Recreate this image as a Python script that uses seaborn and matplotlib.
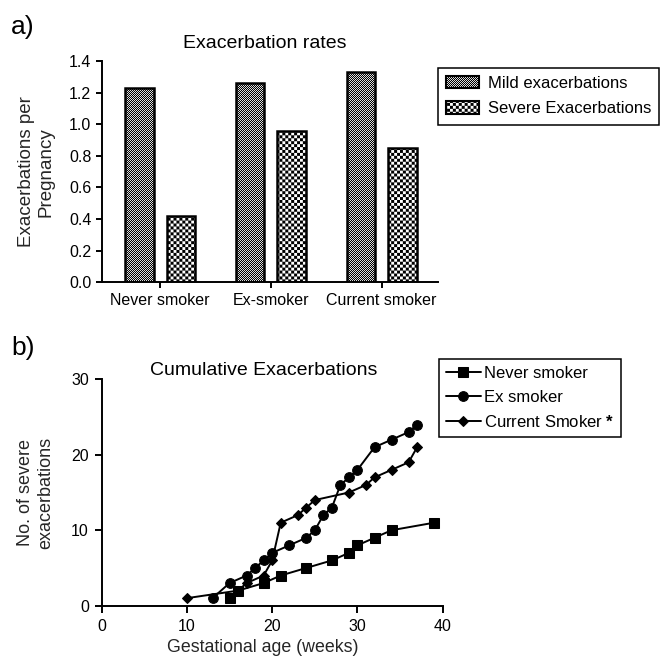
import warnings
import numpy as np
import pandas as pd
import matplotlib
matplotlib.use('Agg')
import matplotlib.pyplot as plt
import matplotlib.hatch as mhatch
from matplotlib.path import Path
from matplotlib.patches import Patch
import seaborn as sns

warnings.filterwarnings('ignore')

# ---- data: a) exacerbation rates ----
groups = ['Never smoker', 'Ex-smoker', 'Current smoker']
mild_rate = [1.23, 1.26, 1.33]
severe_rate = [0.42, 0.96, 0.85]

# ---- data: b) cumulative severe exacerbations ----
never_weeks = [15, 16, 19, 21, 24, 27, 29, 30, 32, 34, 39]
never_count = [1, 2, 3, 4, 5, 6, 7, 8, 9, 10, 11]
ex_weeks = [13, 15, 17, 18, 19, 20, 22, 24, 25, 26, 27, 28, 29, 30, 32, 34, 36, 37]
ex_count = [1, 3, 4, 5, 6, 7, 8, 9, 10, 12, 13, 16, 17, 18, 21, 22, 23, 24]
current_weeks = [10, 16, 17, 19, 20, 21, 23, 24, 25, 29, 31, 32, 34, 36, 37]
current_count = [1, 2, 3, 4, 6, 11, 12, 13, 14, 15, 16, 17, 18, 19, 21]


# checkerboard hatch, 'k' = fine, 'c' = coarse (cells per inch)
class CheckerHatch(mhatch.HatchPatternBase):
    def __init__(self, hatch, density):
        self.n = 100 * hatch.count('k') + 34 * hatch.count('c')
        self.num_vertices = 5 * ((self.n * self.n + 1) // 2) if self.n else 0

    def set_vertices_and_codes(self, vertices, codes):
        n = self.n
        i, j = np.meshgrid(np.arange(n), np.arange(n))
        mask = (i + j) % 2 == 0
        d = 1.0 / n
        corners = np.stack([i[mask] * d, j[mask] * d], axis=1)
        sq = np.array([[0, 0], [d, 0], [d, d], [0, d], [0, 0]])
        vertices[:] = (corners[:, None, :] + sq[None, :, :]).reshape(-1, 2)
        codes[:] = np.tile([Path.MOVETO, Path.LINETO, Path.LINETO,
                            Path.LINETO, Path.CLOSEPOLY], len(corners))


mhatch._hatch_types.append(CheckerHatch)

sns.set_style('ticks')
plt.rcParams['font.family'] = ['Liberation Sans', 'DejaVu Sans']
plt.rcParams.update({
    'hatch.linewidth': 0.05,
    'mathtext.fontset': 'custom',
    'mathtext.bf': 'Liberation Sans:bold',
    'axes.linewidth': 1.4,
    'axes.edgecolor': 'black',
    'text.color': 'black',
    'xtick.color': 'black',
    'ytick.color': 'black',
})

W, H = 664, 660
fig = plt.figure(figsize=(W / 100, H / 100), dpi=100)

# ---- a) bar chart ----
bars_df = pd.DataFrame({
    'group': groups * 2,
    'rate': mild_rate + severe_rate,
    'kind': ['Mild exacerbations'] * 3 + ['Severe Exacerbations'] * 3,
})

ax1 = fig.add_axes([101.7 / W, 1 - 282.3 / H, (438.3 - 101.7) / W, (282.3 - 61) / H])
sns.barplot(data=bars_df, x='group', y='rate', hue='kind',
            palette=['white', 'white'], edgecolor='black', linewidth=1.8,
            width=0.75, gap=0.31, errorbar=None, legend=False, ax=ax1)
for cont, h in zip(ax1.containers, ['k', 'c']):
    for bar in cont:
        bar.set_hatch(h)

ax1.set_xlim(-0.527, 2.511)
ax1.set_ylim(0, 1.4)
ax1.set_yticks(np.arange(0, 1.41, 0.2))
ax1.set_xlabel('')
ax1.set_ylabel('Exacerbations per\nPregnancy', fontsize=13.5, linespacing=1.2)
ax1.yaxis.set_label_coords(-0.14, 0.5)
ax1.tick_params(length=4.5, width=1.4, labelsize=11.5, pad=3)
sns.despine(ax=ax1)

handles = [
    Patch(facecolor='white', edgecolor='black', hatch='k', linewidth=1.5,
          label='Mild exacerbations'),
    Patch(facecolor='white', edgecolor='black', hatch='c', linewidth=1.5,
          label='Severe Exacerbations'),
]
leg1 = fig.legend(handles=handles, loc='upper left',
                  bbox_to_anchor=(437.7 / W, 1 - 67.7 / H), borderaxespad=0,
                  fontsize=12, frameon=True, fancybox=False, framealpha=1,
                  edgecolor='black', handlelength=2.0, handleheight=0.75,
                  handletextpad=0.5, labelspacing=0.62, borderpad=0.5)
leg1.get_frame().set_linewidth(1.1)

# ---- b) cumulative line chart ----
ax2 = fig.add_axes([101.7 / W, 1 - 605.7 / H, (442.7 - 101.7) / W, (605.7 - 379.3) / H])
series = [
    (never_weeks, never_count, 's', 6.5, 'Never smoker'),
    (ex_weeks, ex_count, 'o', 7, 'Ex smoker'),
    (current_weeks, current_count, 'D', 5, 'Current Smoker $\\mathbf{*}$'),
]
for x, y, m, ms, lab in series:
    sns.lineplot(x=x, y=y, marker=m, markersize=ms, color='black',
                 markeredgecolor='black', markeredgewidth=0.75,
                 linewidth=1.4, label=lab, ax=ax2)

if ax2.get_legend() is not None:
    ax2.get_legend().remove()

ax2.set_xlim(0, 40)
ax2.set_ylim(0, 30)
ax2.set_xticks([0, 10, 20, 30, 40])
ax2.set_yticks([0, 10, 20, 30])
ax2.set_xlabel('Gestational age (weeks)', fontsize=12.8)
ax2.xaxis.set_label_coords(0.473, -0.145)
ax2.set_ylabel('No. of severe\nexacerbations', fontsize=13, linespacing=1.2)
ax2.yaxis.set_label_coords(-0.14, 0.5)
ax2.tick_params(length=5.3, width=1.4, labelsize=11.5, pad=4)
sns.despine(ax=ax2)

h2, l2 = ax2.get_legend_handles_labels()
leg2 = fig.legend(h2, l2, loc='upper left',
                  bbox_to_anchor=(439.3 / W, 1 - 359 / H), borderaxespad=0,
                  fontsize=12, frameon=True, fancybox=False, framealpha=1,
                  edgecolor='black', handlelength=2.1, handletextpad=0.2,
                  labelspacing=0.55, borderpad=0.4, numpoints=1)
leg2.get_frame().set_linewidth(1.1)

# ---- titles and panel letters ----
fig.text(265 / W, 1 - 48.5 / H, 'Exacerbation rates', fontsize=14,
         ha='center', va='baseline')
fig.text(264 / W, 1 - 375 / H, 'Cumulative Exacerbations', fontsize=14,
         ha='center', va='baseline')
fig.text(11 / W, 1 - 34 / H, 'a)', fontsize=19, va='baseline')
fig.text(11 / W, 1 - 355 / H, 'b)', fontsize=19, va='baseline')

fig.savefig('out.png', dpi=100)
